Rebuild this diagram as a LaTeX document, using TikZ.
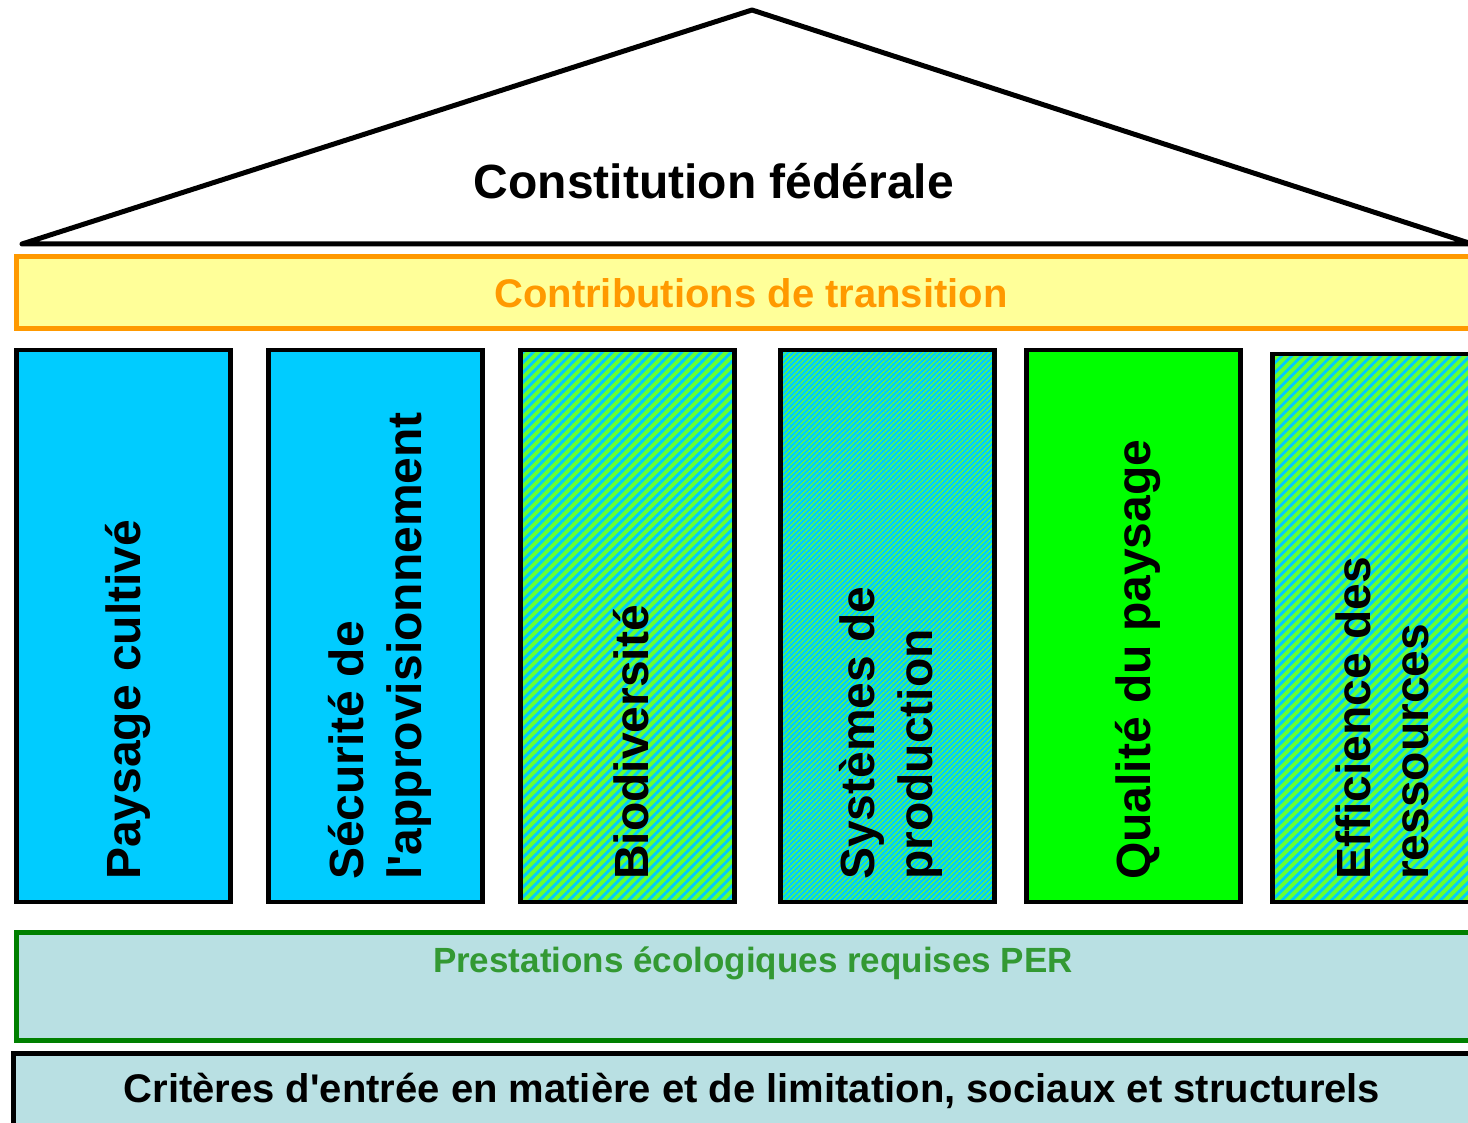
\documentclass[tikz,border=0pt]{standalone}
\usepackage{fontspec}
\setmainfont{Liberation Sans}
\usetikzlibrary{patterns.meta}
\definecolor{ccyan}{HTML}{00CCFF}
\definecolor{hgreen}{HTML}{66FF33}
\definecolor{cgreen}{HTML}{00FF00}
\definecolor{byellow}{HTML}{FFFF99}
\definecolor{borange}{HTML}{FF9900}
\definecolor{pgreen}{HTML}{008000}
\definecolor{ptext}{HTML}{339933}
\definecolor{lblue}{HTML}{B9E0E3}
\tikzset{
  boxbase/.style={line width=5pt, inner sep=0pt, outer sep=0pt, anchor=north west},
  col/.style={boxbase, draw=black, line width=4.5pt, minimum width=214pt, minimum height=552pt},
  wide/.style={col, preaction={fill=hgreen}, preaction={pattern={Lines[angle=45,distance=7pt,line width=2.8pt]}, pattern color=ccyan}},
  fine/.style={col, preaction={fill=ccyan}, preaction={pattern={Lines[angle=45,distance=3.6pt,line width=1pt]}, pattern color=hgreen}},
  coltext/.style={rotate=90, anchor=west, inner sep=0pt, align=left, font=\fontsize{48}{58}\selectfont\bfseries},
}
\begin{document}
\begin{tikzpicture}[x=1pt,y=-1pt]
\useasboundingbox (0,0) rectangle (1468,1123);
\clip (0,0) rectangle (1468,1123);
% roof
\draw[line width=5pt, line join=round, line cap=round] (22,244) -- (752,10) -- (1472,244) -- cycle;
\node[anchor=base, inner sep=0pt, font=\fontsize{48}{58}\selectfont\bfseries] (title) at (714,199) {Constitution fédérale};
% transition band
\node[boxbase, draw=borange, fill=byellow, minimum width=1470pt, minimum height=72pt] (band) at (16.5,256.5) {};
\node[anchor=base, inner sep=0pt, text=borange, font=\fontsize{40}{48}\selectfont\bfseries] (bandtext) at (751,308) {Contributions de transition};
% columns
\node[col, fill=ccyan] (c1) at (16.5,350) {};
\node[col, fill=ccyan] (c2) at (268.5,350) {};
\node[wide] (c3) at (520.5,350) {};
\node[fine] (c4) at (780.5,350) {};
\node[col, fill=cgreen] (c5) at (1026.5,350) {};
\node[wide, minimum height=548pt] (c6) at (1272.5,354) {};
\node[coltext] (t1) at (128,880) {Paysage cultivé};
\node[coltext] (t2) at (380,880) {Sécurité de\\l\textquotesingle approvisionnement};
\node[coltext] (t3) at (631,880) {Biodiversité};
\node[coltext] (t4) at (891,880) {Systèmes de\\production};
\node[coltext] (t5) at (1138,880) {Qualité du paysage};
\node[coltext] (t6) at (1382,880) {Efficience des\\ressources};
% PER band
\node[boxbase, draw=pgreen, fill=lblue, minimum width=1470pt, minimum height=108pt] (per) at (16.5,932.5) {};
\node[anchor=base, inner sep=0pt, text=ptext, font=\fontsize{35}{40}\selectfont\bfseries] (pertext) at (753,972) {Prestations écologiques requises PER};
% base
\node[boxbase, draw=black, fill=lblue, minimum width=1470pt, minimum height=120pt] (base) at (13.5,1053.5) {};
\node[anchor=base, inner sep=0pt, font=\fontsize{40}{46}\selectfont\bfseries] (basetext) at (752,1102) {Critères d\textquotesingle entrée en matière et de limitation, sociaux et structurels};
\end{tikzpicture}
\end{document}
